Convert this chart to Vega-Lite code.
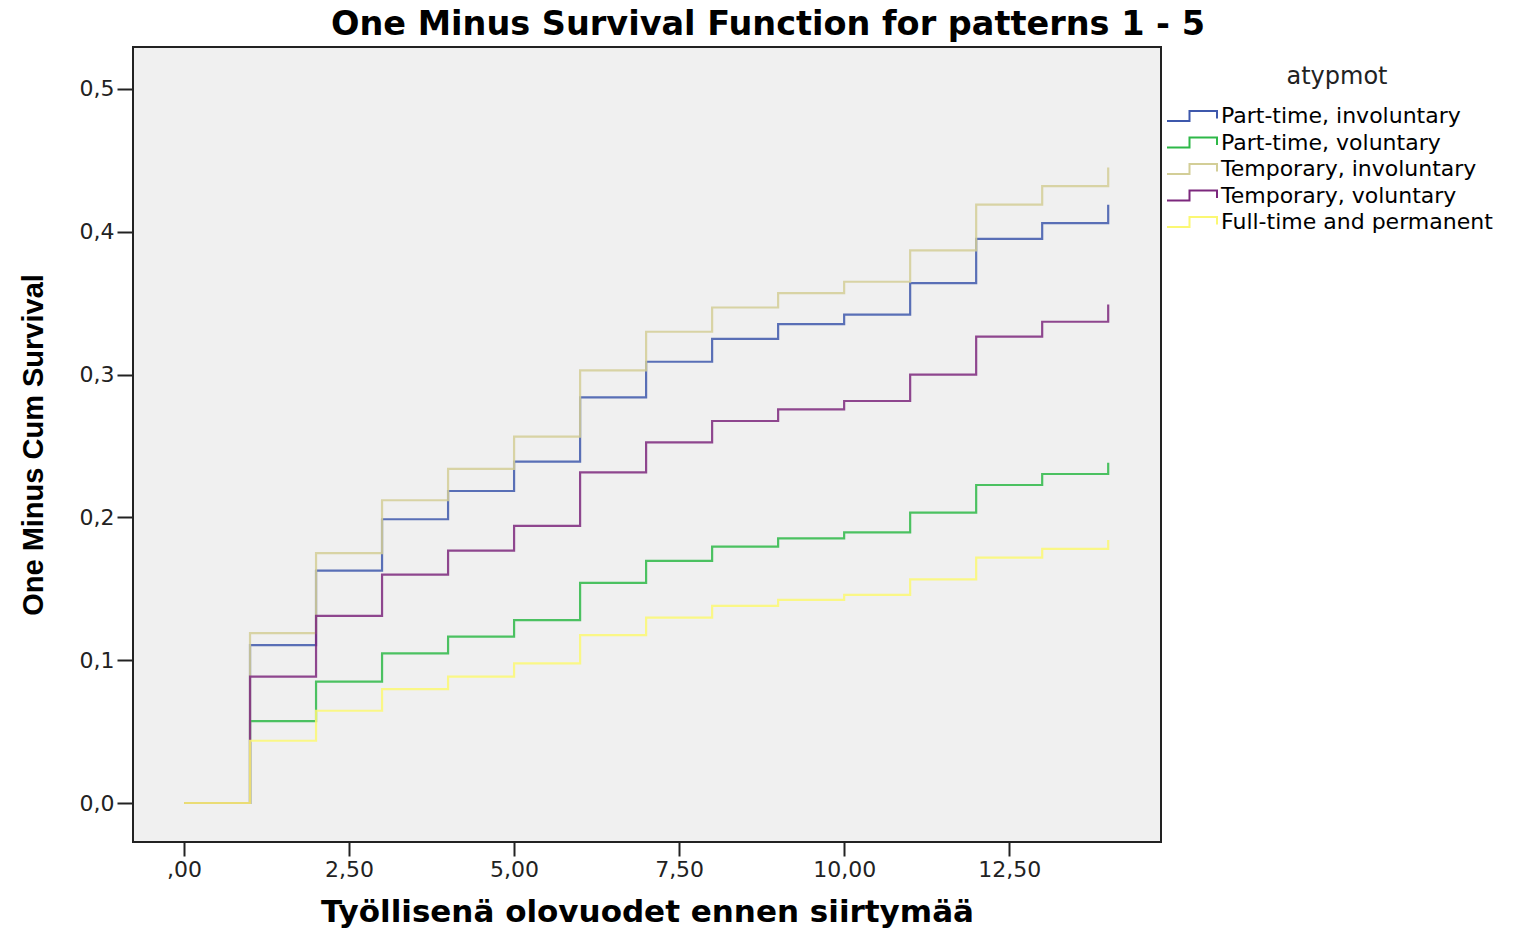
{
  "$schema": "https://vega.github.io/schema/vega-lite/v6.json",
  "width": 1028,
  "height": 795,
  "autosize": {"type": "none"},
  "padding": {"left": 133, "top": 47, "right": 360, "bottom": 88},
  "background": "white",
  "title": {
    "text": "One Minus Survival Function for patterns 1 - 5",
    "font": "DejaVu Sans",
    "fontSize": 33.5,
    "fontWeight": "bold",
    "color": "black",
    "anchor": "middle",
    "dx": 121,
    "offset": 5
  },
  "data": {
    "values": [
      {"t": 0, "p": 0, "g": "Part-time, involuntary"},
      {"t": 1, "p": 0.1106, "g": "Part-time, involuntary"},
      {"t": 2, "p": 0.1627, "g": "Part-time, involuntary"},
      {"t": 3, "p": 0.1987, "g": "Part-time, involuntary"},
      {"t": 4, "p": 0.2185, "g": "Part-time, involuntary"},
      {"t": 5, "p": 0.239, "g": "Part-time, involuntary"},
      {"t": 6, "p": 0.284, "g": "Part-time, involuntary"},
      {"t": 7, "p": 0.309, "g": "Part-time, involuntary"},
      {"t": 8, "p": 0.325, "g": "Part-time, involuntary"},
      {"t": 9, "p": 0.3354, "g": "Part-time, involuntary"},
      {"t": 10, "p": 0.342, "g": "Part-time, involuntary"},
      {"t": 11, "p": 0.364, "g": "Part-time, involuntary"},
      {"t": 12, "p": 0.395, "g": "Part-time, involuntary"},
      {"t": 13, "p": 0.406, "g": "Part-time, involuntary"},
      {"t": 14, "p": 0.419, "g": "Part-time, involuntary"},
      {"t": 0, "p": 0, "g": "Part-time, voluntary"},
      {"t": 1, "p": 0.0574, "g": "Part-time, voluntary"},
      {"t": 2, "p": 0.085, "g": "Part-time, voluntary"},
      {"t": 3, "p": 0.1048, "g": "Part-time, voluntary"},
      {"t": 4, "p": 0.1165, "g": "Part-time, voluntary"},
      {"t": 5, "p": 0.128, "g": "Part-time, voluntary"},
      {"t": 6, "p": 0.1541, "g": "Part-time, voluntary"},
      {"t": 7, "p": 0.1695, "g": "Part-time, voluntary"},
      {"t": 8, "p": 0.1795, "g": "Part-time, voluntary"},
      {"t": 9, "p": 0.1853, "g": "Part-time, voluntary"},
      {"t": 10, "p": 0.1895, "g": "Part-time, voluntary"},
      {"t": 11, "p": 0.2033, "g": "Part-time, voluntary"},
      {"t": 12, "p": 0.2227, "g": "Part-time, voluntary"},
      {"t": 13, "p": 0.2304, "g": "Part-time, voluntary"},
      {"t": 14, "p": 0.2383, "g": "Part-time, voluntary"},
      {"t": 0, "p": 0, "g": "Temporary, involuntary"},
      {"t": 1, "p": 0.119, "g": "Temporary, involuntary"},
      {"t": 2, "p": 0.175, "g": "Temporary, involuntary"},
      {"t": 3, "p": 0.212, "g": "Temporary, involuntary"},
      {"t": 4, "p": 0.234, "g": "Temporary, involuntary"},
      {"t": 5, "p": 0.2565, "g": "Temporary, involuntary"},
      {"t": 6, "p": 0.303, "g": "Temporary, involuntary"},
      {"t": 7, "p": 0.33, "g": "Temporary, involuntary"},
      {"t": 8, "p": 0.347, "g": "Temporary, involuntary"},
      {"t": 9, "p": 0.357, "g": "Temporary, involuntary"},
      {"t": 10, "p": 0.365, "g": "Temporary, involuntary"},
      {"t": 11, "p": 0.387, "g": "Temporary, involuntary"},
      {"t": 12, "p": 0.419, "g": "Temporary, involuntary"},
      {"t": 13, "p": 0.432, "g": "Temporary, involuntary"},
      {"t": 14, "p": 0.445, "g": "Temporary, involuntary"},
      {"t": 0, "p": 0, "g": "Temporary, voluntary"},
      {"t": 1, "p": 0.0885, "g": "Temporary, voluntary"},
      {"t": 2, "p": 0.131, "g": "Temporary, voluntary"},
      {"t": 3, "p": 0.16, "g": "Temporary, voluntary"},
      {"t": 4, "p": 0.1767, "g": "Temporary, voluntary"},
      {"t": 5, "p": 0.194, "g": "Temporary, voluntary"},
      {"t": 6, "p": 0.2316, "g": "Temporary, voluntary"},
      {"t": 7, "p": 0.2526, "g": "Temporary, voluntary"},
      {"t": 8, "p": 0.2675, "g": "Temporary, voluntary"},
      {"t": 9, "p": 0.2757, "g": "Temporary, voluntary"},
      {"t": 10, "p": 0.2815, "g": "Temporary, voluntary"},
      {"t": 11, "p": 0.3, "g": "Temporary, voluntary"},
      {"t": 12, "p": 0.3266, "g": "Temporary, voluntary"},
      {"t": 13, "p": 0.337, "g": "Temporary, voluntary"},
      {"t": 14, "p": 0.349, "g": "Temporary, voluntary"},
      {"t": 0, "p": 0, "g": "Full-time and permanent"},
      {"t": 1, "p": 0.0436, "g": "Full-time and permanent"},
      {"t": 2, "p": 0.0646, "g": "Full-time and permanent"},
      {"t": 3, "p": 0.0798, "g": "Full-time and permanent"},
      {"t": 4, "p": 0.0885, "g": "Full-time and permanent"},
      {"t": 5, "p": 0.0978, "g": "Full-time and permanent"},
      {"t": 6, "p": 0.1176, "g": "Full-time and permanent"},
      {"t": 7, "p": 0.1298, "g": "Full-time and permanent"},
      {"t": 8, "p": 0.138, "g": "Full-time and permanent"},
      {"t": 9, "p": 0.1422, "g": "Full-time and permanent"},
      {"t": 10, "p": 0.1457, "g": "Full-time and permanent"},
      {"t": 11, "p": 0.1566, "g": "Full-time and permanent"},
      {"t": 12, "p": 0.1718, "g": "Full-time and permanent"},
      {"t": 13, "p": 0.1779, "g": "Full-time and permanent"},
      {"t": 14, "p": 0.1842, "g": "Full-time and permanent"}
    ]
  },
  "mark": {"type": "line", "interpolate": "step-after", "strokeWidth": 2.2, "strokeOpacity": 0.85},
  "encoding": {
    "x": {
      "field": "t",
      "type": "quantitative",
      "scale": {"domain": [-0.773, 14.8], "nice": false, "zero": false},
      "axis": {
        "title": "Työllisenä olovuodet ennen siirtymää",
        "titleFont": "DejaVu Sans",
        "titleFontSize": 31,
        "titleFontWeight": "bold",
        "titleColor": "black",
        "titlePadding": 17,
        "values": [0, 2.5, 5, 7.5, 10, 12.5],
        "labelExpr": "datum.value == 0 ? ',00' : replace(format(datum.value, '.2f'), '.', ',')",
        "labelFont": "DejaVu Sans",
        "labelFontSize": 22,
        "labelColor": "#222",
        "labelPadding": 3,
        "tickSize": 14,
        "tickWidth": 2,
        "tickColor": "#222",
        "domain": false,
        "grid": false
      }
    },
    "y": {
      "field": "p",
      "type": "quantitative",
      "scale": {"domain": [-0.0273, 0.5294], "nice": false, "zero": false},
      "axis": {
        "title": "One Minus Cum Survival",
        "titleFont": "Liberation Sans",
        "titleFontSize": 29,
        "titleFontWeight": "bold",
        "titleColor": "black",
        "titlePadding": 31,
        "values": [0, 0.1, 0.2, 0.3, 0.4, 0.5],
        "labelExpr": "replace(format(datum.value, '.1f'), '.', ',')",
        "labelFont": "DejaVu Sans",
        "labelFontSize": 22,
        "labelColor": "#222",
        "labelPadding": 3,
        "tickSize": 16,
        "tickWidth": 2,
        "tickColor": "#222",
        "domain": false,
        "grid": false
      }
    },
    "color": {
      "field": "g",
      "type": "nominal",
      "sort": ["Part-time, involuntary", "Part-time, voluntary", "Temporary, involuntary", "Temporary, voluntary", "Full-time and permanent"],
      "scale": {
        "domain": ["Part-time, involuntary", "Part-time, voluntary", "Temporary, involuntary", "Temporary, voluntary", "Full-time and permanent"],
        "range": ["#3E58AC", "#2EB848", "#D3CE97", "#7C287D", "#FBF873"]
      },
      "legend": {
        "title": "atypmot",
        "orient": "none",
        "legendX": 1048,
        "legendY": 18,
        "titleFont": "DejaVu Sans",
        "titleFontSize": 24,
        "titleFontWeight": "normal",
        "titleColor": "#222",
        "titleAnchor": "middle",
        "titlePadding": 16,
        "labelFont": "DejaVu Sans",
        "labelFontSize": 22,
        "labelColor": "black",
        "labelLimit": 400,
        "labelOffset": 18,
        "rowPadding": 4.5,
        "symbolType": "M-2.5,0.5H-0.25V-0.5H2.5V0.25",
        "symbolSize": 400,
        "symbolStrokeWidth": 2,
        "symbolFillColor": "transparent"
      }
    }
  },
  "config": {
    "view": {"fill": "#f0f0f0", "stroke": "#222", "strokeWidth": 2}
  }
}
